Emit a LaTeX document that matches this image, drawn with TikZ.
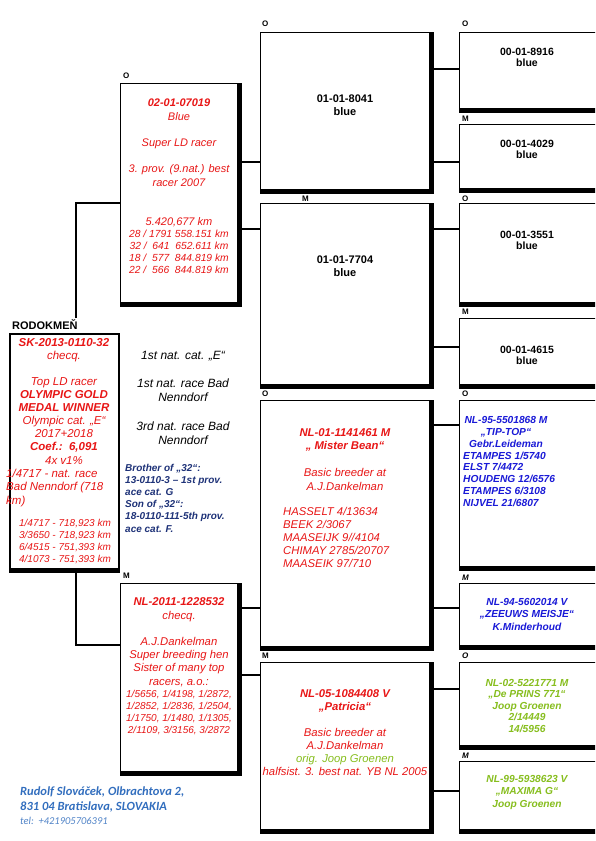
\documentclass[tikz,border=0pt]{standalone}
\usepackage{fontspec}
\setmainfont{Liberation Sans}
\newfontfamily\footfont{Carlito}
\definecolor{pred}{RGB}{232,22,22}
\definecolor{pblue}{RGB}{25,25,215}
\definecolor{pnavy}{RGB}{30,50,120}
\definecolor{pgreen}{RGB}{135,190,30}
\definecolor{pfoot}{RGB}{50,110,190}
\newcommand\pfs[2]{\fontsize{#1}{#2}\selectfont}
\newcommand\pshadow[1]{\draw[heavy] ([xshift=1.6pt]#1.north east) -- ([xshift=1.6pt,yshift=-1.6pt]#1.south east) -- ([yshift=-1.6pt]#1.south west);}
\newcommand\pbottom[1]{\draw[heavy] ([yshift=-1.6pt]#1.south west) -- ([yshift=-1.6pt]#1.south east);}
\tikzset{
  pbox/.style={draw, line width=1pt, inner sep=0, anchor=north west},
  heavy/.style={line width=4pt, line join=miter},
  link/.style={line width=1.3pt},
  txt/.style={inner sep=0, align=center, anchor=base},
  ltxt/.style={inner sep=0, align=left, anchor=base west},
  lab/.style={inner sep=0, anchor=base west, font=\pfs{8}{8}\bfseries}
}
\begin{document}
\begin{tikzpicture}[x=1pt,y=-1pt]
\useasboundingbox (0,0) rectangle (595,841);
\clip (0,0) rectangle (595,841);
\fill[white] (0,0) rectangle (595,841);

% ---------- boxes ----------
\node[pbox, line width=2.2pt, minimum width=109pt, minimum height=235pt] (s) at (9,333) {};
\draw[line width=3pt] ([yshift=-1.6pt]s.south west) -- ([yshift=-1.6pt]s.south east);

\node[pbox, minimum width=117pt, minimum height=219pt] (f) at (120,83) {};
\node[pbox, minimum width=117pt, minimum height=188pt] (m) at (120,583) {};
\pshadow{f}\pshadow{m}

\node[pbox, minimum width=169pt, minimum height=157pt] (b1) at (260,32) {};
\node[pbox, minimum width=169pt, minimum height=181pt] (b2) at (260,203) {};
\node[pbox, minimum width=169pt, minimum height=246pt] (b3) at (260,400) {};
\node[pbox, minimum width=169pt, minimum height=167pt] (b4) at (260,662) {};
\pshadow{b1}\pshadow{b2}\pshadow{b3}\pshadow{b4}

\node[pbox, minimum width=150pt, minimum height=76pt] (c1) at (459,32) {};
\node[pbox, minimum width=150pt, minimum height=64pt] (c2) at (459,124) {};
\node[pbox, minimum width=150pt, minimum height=99pt] (c3) at (459,203) {};
\node[pbox, minimum width=150pt, minimum height=66pt] (c4) at (459,318) {};
\node[pbox, minimum width=150pt, minimum height=166pt] (c5) at (459,400) {};
\node[pbox, minimum width=150pt, minimum height=62pt] (c6) at (459,583) {};
\node[pbox, minimum width=150pt, minimum height=83pt] (c7) at (459,662) {};
\node[pbox, minimum width=150pt, minimum height=68pt] (c8) at (459,761) {};
\pbottom{c1}\pbottom{c2}\pbottom{c3}\pbottom{c4}\pbottom{c5}\pbottom{c6}\pbottom{c7}\pbottom{c8}

% ---------- connectors ----------
\coordinate (rk) at (76,318);
\draw[link] (rk) |- (f.west |- 0,203);
\draw[link] (s.south -| 76,0) |- (m.west |- 0,645);
\draw[link] (f.east |- 0,162) -- (b1.west |- 0,162);
\draw[link] (f.east |- 0,229) -- (b2.west |- 0,229);
\draw[link] (m.east |- 0,608) -- (b3.west |- 0,608);
\draw[link] (m.east |- 0,675) -- (b4.west |- 0,675);
\draw[link] (b1.east |- 0,69) -- (c1.west |- 0,69);
\draw[link] (b1.east |- 0,162) -- (c2.west |- 0,162);
\draw[link] (b2.east |- 0,229) -- (c3.west |- 0,229);
\draw[link] (b2.east |- 0,347) -- (c4.west |- 0,347);
\draw[link] (b3.east |- 0,425) -- (c5.west |- 0,425);
\draw[link] (b3.east |- 0,608) -- (c6.west |- 0,608);
\draw[link] (b4.east |- 0,689) -- (c7.west |- 0,689);
\draw[link] (b4.east |- 0,791) -- (c8.west |- 0,791);

% ---------- O / M labels ----------
\node[lab] (lf) at (123,78) {O};
\node[lab] (lm) at (123,578) {M};
\node[lab] (l1) at (262,26) {O};
\node[lab] (l2) at (302,201) {M};
\node[lab] (l3) at (262,396) {O};
\node[lab] (l4) at (262,658) {M};
\node[lab] (k1) at (462,26) {O};
\node[lab] (k2) at (462,121) {M};
\node[lab] (k3) at (462,201) {O};
\node[lab] (k4) at (462,314) {M};
\node[lab] (k5) at (462,396) {O};
\node[lab, font=\pfs{8}{8}\bfseries\itshape] (k6) at (462,580) {M};
\node[lab, font=\pfs{8}{8}\bfseries\itshape] (k7) at (462,658) {O};
\node[lab, font=\pfs{8}{8}\bfseries\itshape] (k8) at (462,758) {M};

\node[lab, font=\pfs{11}{11}\bfseries] (rod) at (12,329) {RODOKMEŇ};

% ---------- main subject (anchor = baseline of last line) ----------
\node[txt, text=pred, font=\pfs{11.5}{13.1}\itshape] (s1) at (64,464)
  {\textbf{SK-2013-0110-32}\\checq.\\[13.1pt]Top LD racer\\\textbf{OLYMPIC GOLD}\\\textbf{MEDAL WINNER}\\Olympic cat. „E“\\2017+2018\\\textbf{Coef.:\ \ 6,091}\\4x v1\%};
\node[ltxt, text=pred, font=\pfs{11.5}{13.1}\itshape] (s2) at (6,504)
  {1/4717 - nat. race\\Bad Nenndorf (718\\km)};
\node[txt, text=pred, font=\pfs{10}{11.8}\itshape] (s3) at (65,562)
  {1/4717 - 718,923 km\\3/3650 - 718,923 km\\6/4515 - 751,393 km\\4/1073 - 751,393 km};

% ---------- middle notes ----------
\node[txt, font=\pfs{12}{14}\itshape] (n1) at (183,359) {1st nat. cat. „E“};
\node[txt, font=\pfs{12}{14}\itshape] (n2) at (183,401) {1st nat. race Bad\\Nenndorf};
\node[txt, font=\pfs{12}{14}\itshape] (n3) at (183,444) {3rd nat. race Bad\\Nenndorf};
\node[ltxt, text=pnavy, font=\pfs{10}{12.2}\bfseries\itshape] (n4) at (125,532)
  {Brother of „32“:\\13-0110-3 – 1st prov.\\ace cat. G\\Son of „32“:\\18-0110-111-5th prov.\\ace cat. F.};

% ---------- father ----------
\node[txt, text=pred, font=\pfs{11}{13.2}\itshape] (f1) at (179,186)
  {\textbf{02-01-07019}\\Blue\\[13.2pt]Super LD racer\\[13.2pt]3. prov. (9.nat.) best\\racer 2007};
\node[txt, text=pred, font=\pfs{11}{13}\itshape] (f2) at (179,225) {5.420,677 km};
\node[txt, text=pred, font=\pfs{10.3}{11.7}\itshape] (f3) at (179,273)
  {28 / 1791 558.151 km\\32 /\ \ 641\ \ 652.611 km\\18 /\ \ 577\ \ 844.819 km\\22 /\ \ 566\ \ 844.819 km};

% ---------- mother ----------
\node[txt, text=pred, font=\pfs{11.3}{13.2}\itshape] (m1) at (179,685)
  {\textbf{NL-2011-1228532}\\checq.\\[13.2pt]A.J.Dankelman\\Super breeding hen\\Sister of many top\\racers, a.o.:};
\node[txt, text=pred, font=\pfs{10}{12}\itshape] (m2) at (179,733)
  {1/5656, 1/4198, 1/2872,\\1/2852, 1/2836, 1/2504,\\1/1750, 1/1480, 1/1305,\\2/1109, 3/3156, 3/2872};

% ---------- grandparents ----------
\node[txt, font=\pfs{11}{13}\bfseries] (g1) at (345,115) {01-01-8041\\blue};
\node[txt, font=\pfs{11}{13}\bfseries] (g2) at (345,276) {01-01-7704\\blue};

\node[txt, text=pred, font=\pfs{11.3}{13.5}\itshape] (g3) at (345,490)
  {\textbf{NL-01-1141461 M}\\\textbf{„ Mister Bean“}\\[13.5pt]Basic breeder at\\A.J.Dankelman};
\node[ltxt, text=pred, font=\pfs{11.3}{13}\itshape] (g3b) at (283,567)
  {HASSELT 4/13634\\BEEK 2/3067\\MAASEIJK 9//4104\\CHIMAY 2785/20707\\MAASEIK 97/710};

\node[txt, text=pred, font=\pfs{11.3}{13}\itshape] (g4) at (345,775)
  {\textbf{NL-05-1084408 V}\\\textbf{„Patricia“}\\[13pt]Basic breeder at\\A.J.Dankelman\\\textcolor{pgreen}{orig. Joop Groenen}\\halfsist. 3. best nat. YB NL 2005};

% ---------- great-grandparents ----------
\node[txt, font=\pfs{10.5}{11.5}\bfseries] (h1) at (527,66.5) {00-01-8916\\blue};
\node[txt, font=\pfs{10.5}{11.5}\bfseries] (h2) at (527,158.5) {00-01-4029\\blue};
\node[txt, font=\pfs{10.5}{11.5}\bfseries] (h3) at (527,249.5) {00-01-3551\\blue};
\node[txt, font=\pfs{10.5}{11.5}\bfseries] (h4) at (527,364.5) {00-01-4615\\blue};

\node[txt, text=pblue, font=\pfs{10.2}{11.9}\bfseries\itshape] (h5) at (506,447)
  {NL-95-5501868 M\\„TIP-TOP“\\Gebr.Leideman};
\node[ltxt, text=pblue, font=\pfs{10.2}{11.9}\bfseries\itshape] (h5b) at (463,506.6)
  {ETAMPES 1/5740\\ELST 7/4472\\HOUDENG 12/6576\\ETAMPES 6/3108\\NIJVEL 21/6807};
\node[txt, text=pblue, font=\pfs{10.2}{12.4}\bfseries\itshape] (h6) at (527,630)
  {NL-94-5602014 V\\„ZEEUWS MEISJE“\\K.Minderhoud};
\node[txt, text=pgreen, font=\pfs{10.2}{11.6}\bfseries\itshape] (h7) at (527,732.4)
  {NL-02-5221771 M\\„De PRINS 771“\\Joop Groenen\\2/14449\\14/5956};
\node[txt, text=pgreen, font=\pfs{10.2}{12.5}\bfseries\itshape] (h8) at (527,807)
  {NL-99-5938623 V\\„MAXIMA G“\\Joop Groenen};

% ---------- footer ----------
\node[ltxt, text=pfoot, font=\footfont\pfs{12.5}{15}\bfseries\itshape] (ft) at (20,810)
  {Rudolf Slováček, Olbrachtova 2,\\831 04 Bratislava, SLOVAKIA};
\node[ltxt, text=pfoot!85, font=\footfont\pfs{10.5}{11}\itshape] (tel) at (20,824) {tel:\ \ +421905706391};
\end{tikzpicture}
\end{document}
